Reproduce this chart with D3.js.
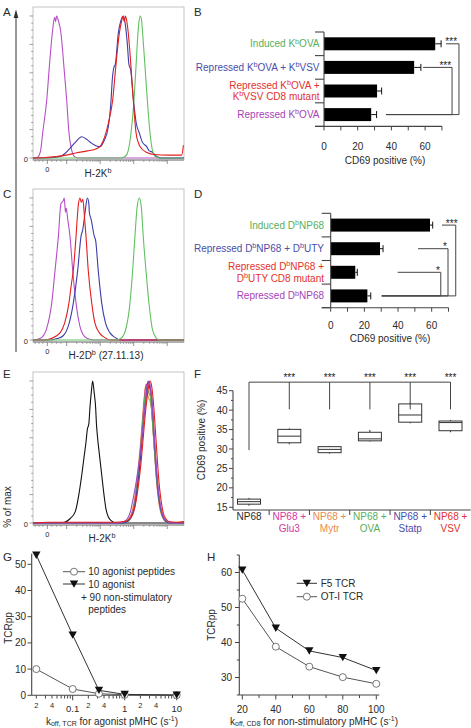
<!DOCTYPE html>
<html><head><meta charset="utf-8">
<script src="https://cdn.jsdelivr.net/npm/d3@7"></script>
<style>body{margin:0;background:#fff;} svg text{font-family:"Liberation Sans",Arial,Helvetica,sans-serif;white-space:pre;}</style>
</head><body><script>
// ---------------- DATA ----------------
// Histograms: [channel (0-100), % of max]
const histA_purple=[[0,0],[3,0.5],[5,5],[6.4,17.6],[9.1,40.8],[10.8,64],[12.8,88],[14.3,99],[15,96],[15.6,100],[17,96],[18.5,88],[20.5,64],[22.3,41],[23.8,18],[25.5,6],[27.5,1],[30,0],[100,0]];
const histA_blue=[[0,0],[10,0],[14,0.3],[17.9,1],[21,3],[24.5,6.8],[28,11],[32.3,15],[35,13.5],[38.9,10.3],[42,8.5],[44.4,8],[47,12],[49.9,22],[51.7,41],[52.5,55],[53.6,64],[54.5,66],[56.5,88],[58,96],[59.8,100],[61,95],[62.5,80],[63.5,66],[64.7,62],[66.5,41],[68.3,25],[70.4,17.6],[72.5,11],[75.3,8],[77,5],[78.6,4.4],[80,3],[81.9,1],[85,0],[100,0]];
const histA_red=[[0,0],[8,0.3],[15,1],[22,2],[29,3.7],[36,5],[42,6.5],[45,9],[47.5,15],[50,25],[52.8,41],[54.8,64],[57.2,88],[58.8,97],[59.6,100],[60.4,96],[61.2,100],[62,97],[63.1,88],[64.9,64],[66.4,41],[68.2,18],[70,10],[72,6.5],[75,4],[80,2.5],[90,2],[98.5,2],[99.6,9]];
const histA_green=[[0,0],[58,0],[61,1],[63,5],[64.9,17.6],[66.9,41],[68.2,64],[69.5,88],[70.3,97],[71.1,100],[71.9,97],[72.6,88],[74.2,64],[75.7,41],[77.5,17.6],[79.2,5],[81,1],[84,0],[100,0]];

const histC_purple=[[0,0],[3,0.5],[6,2],[9,8],[12.4,26],[14.6,49],[16.8,73],[18.5,96],[20,98],[20.7,100],[21.5,90],[22,93],[23,85],[24.5,73],[26.3,49],[28.5,26],[31,10],[33,4],[36,1],[40,0],[100,0]];
const histC_red=[[0,0],[8,0],[12,1],[17.9,5],[21,12],[23.8,26],[25.5,40],[26.7,49],[28.5,73],[30,95],[31.1,100],[32,97],[33,99],[34,88],[35.1,73],[36.6,49],[38.9,26],[41,12],[44,5],[48,1.5],[51,0],[100,0]];
const histC_blue=[[0,0],[12,0],[16,1],[20,3],[24,12],[26.7,26],[29.6,49],[31.8,73],[33,78],[34.5,90],[36,100],[37,96],[37.3,90],[38.5,85],[40.6,73],[41.5,70],[43.2,49],[45.5,26],[48,12],[51,5],[54,2],[58,0],[100,0]];
const histC_green=[[0,0],[55,0],[58,1],[61,6],[64.2,26],[66,49],[67.5,73],[69,94],[70.4,100],[71.7,94],[73,73],[74.8,49],[76.8,26],[79,8],[82,1],[84,0],[100,0]];

const histE_black=[[0,0],[18,0],[21,0.5],[24.5,3],[28,8],[30.3,19.6],[32.3,34],[34,48],[35.1,57],[36,66],[37,70],[37.7,81],[38.6,92],[39.5,100],[40.5,92],[41.5,81],[42,70],[42.6,62],[44,48],[45.5,34],[47,20],[48.3,10],[50,4],[52,1.5],[55,0],[100,0]];
const histE_orange=[[0,0],[58,0],[61,1],[63.5,3],[65.5,8],[67,15],[68.5,27],[70,42],[71.5,60],[72.8,78],[73.8,90],[74.5,96.5],[75.5,94],[76.5,88],[77.5,86],[78.5,80],[79.5,65],[80.5,50],[81.5,35],[82.5,22],[83.5,13],[85,6],[87,2],[89,0],[100,0]];
const histE_magenta=[[0,0],[59,0],[62,1],[64.5,4],[66.5,10],[68,20],[69.5,33],[71,50],[72.5,70],[73.8,88],[75,98],[76,95],[77,96],[78,88],[79,74],[80,58],[81,42],[82,28],[83.5,15],[85,7],[87,2],[90,0],[100,0]];
const histE_green=[[0,0],[60,0],[63,1],[65,4],[67,11],[68.5,22],[70,36],[71.5,55],[73,75],[74.3,90],[75.5,95],[76.5,92],[77.5,90],[78.5,80],[79.5,66],[80.5,50],[81.5,36],[82.5,24],[84,12],[86,4],[88,1],[90,0],[100,0]];
const histE_blue=[[0,0],[60,0],[63,1.5],[65.5,5],[67.5,12],[69,24],[70.5,38],[72,56],[73.5,75],[75,90],[76.2,100],[77.2,96],[78.2,92],[79.2,80],[80.2,62],[81.2,45],[82.2,30],[83.5,17],[85,8],[87,2.5],[90,0],[100,0]];
const histE_purple=[[0,0],[57,0],[60,1],[62.5,3],[64.5,8],[66.5,18],[68.5,30],[70.5,45],[72.5,64],[74,80],[75.5,93],[76.8,100],[77.8,96],[78.8,86],[79.8,70],[80.8,54],[81.8,38],[83,24],[84.5,12],[86.5,4],[89,1],[91,0],[100,0]];
const histE_red=[[0,0],[10,0.5],[30,0.5],[55,0.5],[60,1],[63,2],[66,6],[68,14],[70,28],[71.5,42],[73,60],[74.5,78],[76,92],[77.5,100],[78.5,97],[79.5,88],[80.5,74],[81.5,58],[82.5,42],[83.5,28],[84.8,16],[86.3,7],[88,3],[90,1],[95,0.5],[100,1]];

// Bar panels B and D
const labelsB=[["Induced K^bOVA"],["Repressed K^bOVA + K^bVSV"],["Repressed K^bOVA +","K^bVSV CD8 mutant"],["Repressed K^bOVA"]];
const valuesB=[66,53.5,31.5,28];
const errorsB=[3.5,4,2.7,3.2];
const labelsD=[["Induced D^bNP68"],["Repressed D^bNP68 + D^bUTY"],["Repressed D^bNP68 +","D^bUTY CD8 mutant"],["Repressed D^bNP68"]];
const valuesD=[59,29.3,14.6,21.8];
const errorsD=[1.6,1.8,1.2,2.0];
const barTicks=[0,20,40,60];

// Box plot panel F: [min, q1, median, q3, max]
const catsF=[["NP68"],["NP68 +","Glu3"],["NP68 +","Mytr"],["NP68 +","OVA"],["NP68 +","Statp"],["NP68 +","VSV"]];
const statsF=[[15.4,15.8,16.45,17.1,17.4],[31.2,31.6,33.3,35.05,35.3],[28.8,29.05,29.9,30.6,30.8],[31.9,32.1,32.6,34.3,34.9],[36.6,36.9,38.75,41.6,41.9],[34.3,34.7,36.8,37.2,37.45]];
const ticksF=[15,20,25,30,35,40,45];

// Panel G
const koffG=[0.02,0.1,0.32,1,10];
const agonistOnly=[10,2.4,0.6,0.2,0.05];
const agonistPlusNon=[53.5,23,1.9,0.35,0.1];
const ticksGy=[0,10,20,30,40,50];

// Panel H
const koffH=[20,40,60,80,100];
const f5TCR=[60.7,44.1,37.6,35.7,32];
const ot1TCR=[52.5,38.8,33.1,30.1,28.2];
const ticksHy=[30,40,50,60];
const ticksHx=[20,40,60,80,100];

// ---------------- DRAW ----------------
const GREEN="#5aae5a",BLUE="#4a4ea8",RED="#e2322e",PURPLE="#a542b5",MAGENTA="#d5379e",ORANGE="#e98a4e";
const INK="#2a2a2a", AX="#444";
const svg=d3.select("body").append("svg").attr("width",471).attr("height",728).style("display","block");

function addRich(t,str,fs){
  const parts=str.split("^");
  t.append("tspan").text(parts[0]);
  for(let i=1;i<parts.length;i++){
    t.append("tspan").attr("dy",-fs*0.38).attr("font-size",fs*0.72).text(parts[i][0]);
    t.append("tspan").attr("dy",fs*0.38).text(parts[i].slice(1));
  }
}
function txt(x,y,str,o={}){
  const fs=o.size||10;
  const t=svg.append("text").attr("x",x).attr("y",y).attr("font-size",fs).attr("fill",o.color||INK).attr("text-anchor",o.anchor||"start");
  if(o.rotate) t.attr("transform",`rotate(${o.rotate},${x},${y})`);
  addRich(t,str,fs);
  return t;
}
function ln(x1,y1,x2,y2,c=AX,w=1){svg.append("line").attr("x1",x1).attr("y1",y1).attr("x2",x2).attr("y2",y2).attr("stroke",c).attr("stroke-width",w);}

// panel letters
[["A",3,16],["B",194,16],["C",3,197.5],["D",194,197.5],["E",3,378],["F",194,378],["G",3,561],["H",207,561]].forEach(d=>txt(d[1],d[2],d[0],{size:11.5}));

// ---- histograms ----
function hist(top,curves,title,titleX){
  const x=d3.scaleLinear().domain([0,100]).range([33,184]);
  const y=d3.scaleLinear().domain([0,100]).range([top+151,top+9]);
  svg.append("rect").attr("x",33).attr("y",top).attr("width",151).attr("height",153).attr("fill","none").attr("stroke","#b5b5b5").attr("stroke-width",0.8);
  ln(33,top+153,184,top+153,"#666",0.8);
  d3.range(0,101,5).forEach(v=>ln(v%20===0?29.5:31.2,y(v),33,y(v),"#777",0.7));
  const major=[9.5,22.3,44.5,66.7,88.9];
  const minor=[1.5,4,6.5,12.5,15.5,18.5];
  [22.3,44.5,66.7].forEach(d0=>d3.range(2,10).forEach(k=>minor.push(d0+Math.log10(k)*22.2)));
  major.forEach(c=>ln(x(c),top+153,x(c),top+157,"#666",0.7));
  minor.forEach(c=>ln(x(c),top+153,x(c),top+155,"#777",0.6));
  txt(28,top+154.5,"0",{size:7.5,anchor:"end"});
  txt(x(9.5),top+164.5,"0",{size:7.5,anchor:"middle"});
  txt(titleX,top+169.5,title,{size:10,anchor:"middle"});
  const line=d3.line().x(d=>x(d[0])).y(d=>y(d[1])).curve(d3.curveMonotoneX);
  curves.forEach(c=>svg.append("path").attr("d",line(c[0])).attr("fill","none").attr("stroke",c[1]).attr("stroke-width",1.1).attr("stroke-linejoin","round"));
}
hist(7,[[histA_purple,"#b64fc6"],[histA_blue,"#3d3daa"],[histA_green,"#62c062"],[histA_red,"#e41e1e"]],"H-2K^b",98);
hist(189,[[histC_purple,"#b64fc6"],[histC_blue,"#3d3daa"],[histC_red,"#e41e1e"],[histC_green,"#62c062"]],"H-2D^b (27.11.13)",106);
hist(372,[[histE_black,"#111"],[histE_orange,"#f0904a"],[histE_magenta,"#d23a9e"],[histE_green,"#55b455"],[histE_blue,"#3d3daa"],[histE_purple,"#9a4fc8"],[histE_red,"#e41e1e"]],"H-2K^b",102);

// shared y axis with arrow
ln(16,352,16,12,"#333",1);
svg.append("path").attr("d","M13.6,18 L16,9.5 L18.4,18 Z").attr("fill","#333");
txt(10.5,507,"% of max",{size:10,anchor:"middle",rotate:-90});

// ---- bar panels ----
function bars(o){
  const x=d3.scaleLinear().domain([0,70]).range([o.x0,o.x0+70*o.k]);
  const y=d3.scaleBand().domain(d3.range(o.values.length)).range([o.top,o.bottom]).paddingInner(0.45).paddingOuter(0.225);
  svg.append("g").selectAll("rect").data(o.values).join("rect")
    .attr("x",x(0)).attr("y",(d,i)=>y(i)).attr("width",d=>x(d)-x(0)).attr("height",y.bandwidth()).attr("fill","#000");
  o.values.forEach((v,i)=>{
    const cy=y(i)+y.bandwidth()/2, xe=x(v+o.errors[i]);
    ln(x(v),cy,xe,cy,"#111",1);
    ln(xe,cy-3.5,xe,cy+3.5,"#111",1);
  });
  ln(x(0),o.top,x(0),o.bottom,AX,1.1);
  d3.range(o.values.length+1).forEach(i=>{const yy=o.top+i*y.step(); ln(o.xl,yy,x(0),yy,AX,1.1);});
  ln(o.xl,o.bottom,x(70),o.bottom,AX,1.1);
  d3.range(0,71,10).forEach(v=>ln(x(v),o.bottom,x(v),o.bottom+4,AX,1));
  barTicks.forEach(v=>txt(x(v),o.bottom+23.2-o.tickGap,String(v),{size:10,anchor:"middle"}));
  txt(o.titleX,o.titleY,"CD69 positive (%)",{size:10,anchor:"middle"});
  o.labels.forEach((lines,i)=>{
    const cy=y(i)+y.bandwidth()/2;
    lines.forEach((s,j)=>{
      const yy=cy+(j-(lines.length-1)/2)*11.5+3.5;
      txt(o.labelX,yy,s,{size:10,anchor:"end",color:o.colors[i]});
    });
  });
  o.sig.forEach(s=>{
    const r0=y(s.row)+y.bandwidth()/2, r1=y(s.to)+y.bandwidth()/2;
    ln(x(s.start),r0,x(s.xv),r0,AX,1);
    ln(x(s.xv),r0,x(s.xv),r1,AX,1);
    ln(x(s.bottomStart),r1,x(s.xv),r1,AX,1);
    txt(x(s.tx),r0+1.5,s.label,{size:10,anchor:"middle",color:"#222"});
  });
}
bars({x0:324,k:1.685,top:32,bottom:126.4,xl:315,values:valuesB,errors:errorsB,labels:labelsB,colors:[GREEN,BLUE,RED,PURPLE],
  labelX:319.5,titleX:385,titleY:163.5,tickGap:0,
  sig:[{row:0,to:3,start:72.4,xv:80.1,bottomStart:36.8,tx:75.5,label:"***"},{row:1,to:3,start:58.8,xv:76,bottomStart:36.8,tx:72,label:"***"}]});
bars({x0:330.7,k:1.683,top:213.3,bottom:307.7,xl:321.7,values:valuesD,errors:errorsD,labels:labelsD,colors:[GREEN,BLUE,RED,PURPLE],
  labelX:324,titleX:390,titleY:342,tickGap:1.5,
  sig:[{row:0,to:3,start:66.1,xv:74.3,bottomStart:30.3,tx:71.9,label:"***"},{row:1,to:3,start:51.9,xv:69.7,bottomStart:30.3,tx:67.9,label:"*"},{row:2,to:3,start:39.8,xv:65.4,bottomStart:30.3,tx:63.8,label:"*"}]});

// ---- box plot F ----
(function(){
  const fx=d3.scaleBand().domain(d3.range(catsF.length)).range([228.85,470.65]);
  const fy=d3.scaleLinear().domain([14.3,45]).range([510,390.7]);
  const cx=i=>fx(i)+fx.bandwidth()/2;
  ln(233,fy(14.3),233,fy(45),AX,1.1);
  d3.range(15,45.1,2.5).forEach(v=>ln(v%5===0?229:231,fy(v),233,fy(v),AX,1));
  ticksF.forEach(v=>txt(227.5,fy(v)+3.6,String(v),{size:10,anchor:"end"}));
  ln(233,510,470.65,510,AX,1.1);
  d3.range(1,catsF.length).forEach(i=>ln(fx(i),510,fx(i),515,AX,1));
  const colsF=[INK,MAGENTA,ORANGE,GREEN,BLUE,RED];
  catsF.forEach((lines,i)=>lines.forEach((s,j)=>txt(cx(i),520.2+j*12,s,{size:10,anchor:"middle",color:colsF[i]})));
  txt(205,440,"CD69 positive (%)",{size:10,anchor:"middle",rotate:-90});
  statsF.forEach((s,i)=>{
    const c=cx(i), hw=11.5;
    svg.append("rect").attr("x",c-hw).attr("y",fy(s[3])).attr("width",2*hw).attr("height",fy(s[1])-fy(s[3])).attr("fill","none").attr("stroke","#333").attr("stroke-width",1);
    ln(c-hw,fy(s[2]),c+hw,fy(s[2]),"#333",1);
    ln(c,fy(s[3]),c,fy(s[4]),"#333",1);
    ln(c,fy(s[1]),c,fy(s[0]),"#333",1);
  });
  const top=47.2;
  ln(cx(0),fy(top),cx(5),fy(top),AX,1);
  ln(cx(0),fy(top),cx(0),fy(29.7),AX,1);
  d3.range(1,6).forEach(i=>{ln(cx(i),fy(top),cx(i),fy(40.2),AX,1); txt(cx(i),fy(top)-0.8,"***",{size:10,anchor:"middle",color:"#222"});});
})();

// ---- line chart G ----
function marker(x,y,type){
  if(type==="tri") svg.append("path").attr("d",`M${x-4.2},${y-3.6} L${x+4.2},${y-3.6} L${x},${y+3.8} Z`).attr("fill","#111");
  else svg.append("circle").attr("cx",x).attr("cy",y).attr("r",3.5).attr("fill","#fff").attr("stroke","#666").attr("stroke-width",0.9);
}
(function(){
  const x=d3.scaleLog().domain([0.0163,10]).range([31.7,176.7]);
  const y=d3.scaleLinear().domain([0,54]).range([695.3,553.8]);
  ln(31.7,553.8,31.7,695.3,AX,1.1);
  ln(31.7,695.3,176.7,695.3,AX,1.1);
  ticksGy.forEach(v=>{ln(27.5,y(v),31.7,y(v),AX,1);txt(26,y(v)+3.6,String(v),{size:10,anchor:"end"});});
  [0.01,0.1,1].forEach(d0=>d3.range(1,10).forEach(k=>{
    const v=d0*k; if(v<0.0163||v>10.01) return;
    const maj=(k===1); ln(x(v),695.3,x(v),695.3+(maj?5:3.2),AX,1);
    if(k===2||k===4) txt(x(v),707.5,String(k),{size:7.5,anchor:"middle"});
  }));
  ln(x(10),695.3,x(10),700.3,AX,1);
  [[0.1,"0.1"],[1,"1"],[10,"10"]].forEach(d=>txt(x(d[0]),712.3,d[1],{size:9.5,anchor:"middle"}));
  svg.append("text").attr("x",11.5).attr("y",628).attr("transform","rotate(-90,11.5,628)").attr("text-anchor","middle").attr("font-size",10).attr("fill",INK).text("TCRpp");
  const lineG=d3.line().x(d=>x(d[0])).y(d=>y(d[1]));
  svg.append("path").attr("d",lineG(d3.zip(koffG,agonistOnly))).attr("fill","none").attr("stroke","#555").attr("stroke-width",1);
  svg.append("path").attr("d",lineG(d3.zip(koffG,agonistPlusNon))).attr("fill","none").attr("stroke","#333").attr("stroke-width",1);
  koffG.forEach((k,i)=>marker(x(k),y(agonistOnly[i]),"circ"));
  koffG.forEach((k,i)=>marker(x(k),y(agonistPlusNon[i]),"tri"));
  ln(63,571.7,85,571.7,"#555",1); marker(74,571.7,"circ"); txt(88.3,575.3,"10 agonist peptides");
  ln(63,584,85,584,"#333",1); marker(74,584,"tri"); txt(88.3,587.6,"10 agonist");
  txt(81,600.5,"+ 90 non-stimulatory"); txt(88.3,612.5,"peptides");
  const t=svg.append("text").attr("x",112).attr("y",724.6).attr("text-anchor","middle").attr("font-size",10).attr("fill",INK);
  t.append("tspan").text("k"); t.append("tspan").attr("dy",1.8).attr("font-size",7).text("off, TCR");
  t.append("tspan").attr("dy",-1.8).text(" for agonist pMHC (s"); t.append("tspan").attr("dy",-3.6).attr("font-size",7).text("-1"); t.append("tspan").attr("dy",3.6).text(")");
})();

// ---- line chart H ----
(function(){
  const x=d3.scaleLinear().domain([18.2,101.8]).range([239.3,379.3]);
  const y=d3.scaleLinear().domain([25,65]).range([695,555]);
  ln(239.3,555,239.3,695,AX,1.1);
  ln(239.3,695,379.3,695,AX,1.1);
  d3.range(25,65.1,5).forEach(v=>ln(v%10===0?235:236.8,y(v),239.3,y(v),AX,1));
  ticksHy.forEach(v=>txt(232,y(v)+3.6,String(v),{size:10,anchor:"end"}));
  d3.range(20,100.1,10).forEach(v=>ln(x(v),695,x(v),v%20===0?699.5:698,AX,1));
  ticksHx.forEach(v=>txt(x(v),712.5,String(v),{size:10,anchor:"middle"}));
  svg.append("text").attr("x",214.5).attr("y",625).attr("transform","rotate(-90,214.5,625)").attr("text-anchor","middle").attr("font-size",10).attr("fill",INK).text("TCRpp");
  const lineH=d3.line().x(d=>x(d[0])).y(d=>y(d[1]));
  svg.append("path").attr("d",lineH(d3.zip(koffH,ot1TCR))).attr("fill","none").attr("stroke","#555").attr("stroke-width",1);
  svg.append("path").attr("d",lineH(d3.zip(koffH,f5TCR))).attr("fill","none").attr("stroke","#333").attr("stroke-width",1);
  koffH.forEach((k,i)=>marker(x(k),y(ot1TCR[i]),"circ"));
  koffH.forEach((k,i)=>marker(x(k),y(f5TCR[i]),"tri"));
  ln(296.7,583.3,317,583.3,"#333",1); marker(306.8,583.3,"tri"); txt(320.7,587,"F5 TCR");
  ln(296.7,596.7,317,596.7,"#555",1); marker(306.8,596.7,"circ"); txt(320.7,600.3,"OT-I TCR");
  const t=svg.append("text").attr("x",314).attr("y",724.6).attr("text-anchor","middle").attr("font-size",10).attr("fill",INK);
  t.append("tspan").text("k"); t.append("tspan").attr("dy",1.8).attr("font-size",7).text("off, CD8");
  t.append("tspan").attr("dy",-1.8).text(" for non-stimulatory pMHC (s"); t.append("tspan").attr("dy",-3.6).attr("font-size",7).text("-1"); t.append("tspan").attr("dy",3.6).text(")");
})();
</script></body></html>
